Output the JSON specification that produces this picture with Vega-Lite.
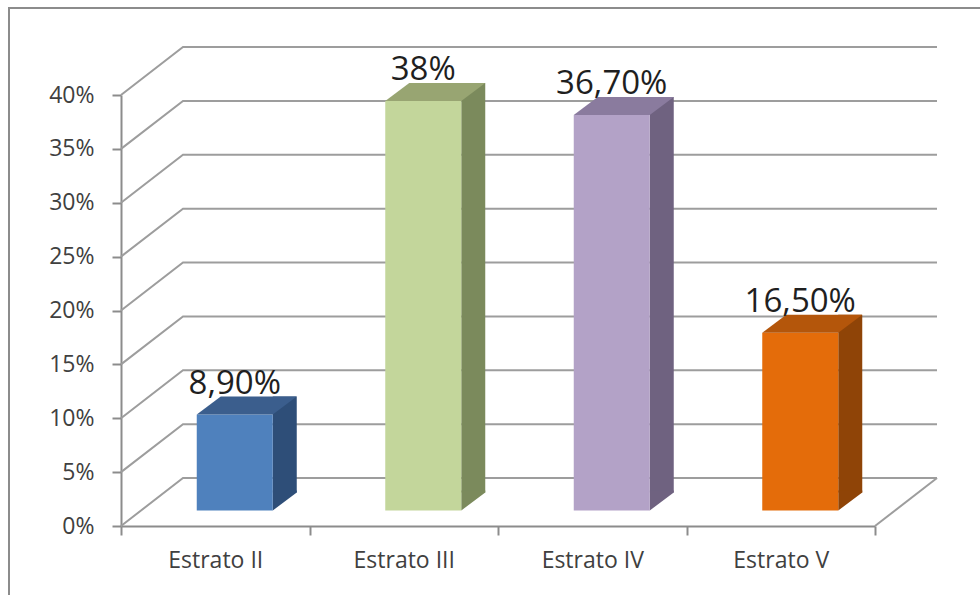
{
  "$schema": "https://vega.github.io/schema/vega-lite/v6.json",
  "width": 754,
  "height": 431,
  "autosize": {"type": "none"},
  "padding": {"left": 121, "top": 95, "right": 105, "bottom": 69},
  "background": "#ffffff",
  "config": {"view": {"stroke": null}, "font": "Open Sans"},
  "datasets": {
    "bars": [
      {"estrato": "Estrato II", "valor": 8.9, "etiqueta": "8,90%"},
      {"estrato": "Estrato III", "valor": 38, "etiqueta": "38%"},
      {"estrato": "Estrato IV", "valor": 36.7, "etiqueta": "36,70%"},
      {"estrato": "Estrato V", "valor": 16.5, "etiqueta": "16,50%"}
    ],
    "grid": [{"g": 0}, {"g": 5}, {"g": 10}, {"g": 15}, {"g": 20}, {"g": 25}, {"g": 30}, {"g": 35}, {"g": 40}]
  },
  "encoding": {
    "x": {
      "field": "estrato", "type": "nominal", "sort": null,
      "scale": {"domain": ["Estrato II", "Estrato III", "Estrato IV", "Estrato V"], "paddingInner": 0, "paddingOuter": 0},
      "axis": {
        "title": null, "labelAngle": 0, "grid": false, "tickBand": "extent",
        "domainColor": "#8c8c8c", "domainWidth": 2,
        "tickColor": "#8c8c8c", "tickWidth": 2, "tickSize": 9,
        "labelPadding": 14, "labelFontSize": 23, "labelColor": "#404040", "labelFont": "Open Sans"
      }
    },
    "y": {
      "field": "valor", "type": "quantitative",
      "scale": {"domain": [0, 40], "nice": false},
      "axis": {
        "values": [0, 5, 10, 15, 20, 25, 30, 35, 40],
        "labelExpr": "datum.value + '%'",
        "title": null, "grid": false,
        "domainColor": "#8c8c8c", "domainWidth": 2,
        "tickColor": "#8c8c8c", "tickWidth": 2, "tickSize": 9,
        "labelPadding": 18, "labelFontSize": 23, "labelColor": "#404040", "labelFont": "Open Sans"
      }
    }
  },
  "layer": [
    {
      "data": {"name": "grid"},
      "transform": [{"filter": "datum.g === 40"}],
      "mark": {"type": "point", "shape": "M -206.25 510 L -206.25 -87 L 780 -87", "size": 4, "filled": false, "opacity": 1, "stroke": "#8c8c8c", "strokeWidth": 2},
      "encoding": {
        "x": {"datum": "Estrato II"},
        "y": {"field": "g", "type": "quantitative"}
      }
    },
    {
      "data": {"name": "grid"},
      "mark": {"type": "point", "shape": "M -94.25 0 L -32.25 -48 L 721.75 -48", "size": 4, "filled": false, "opacity": 1, "stroke": "#9d9d9d", "strokeWidth": 2},
      "encoding": {
        "x": {"datum": "Estrato II"},
        "y": {"field": "g", "type": "quantitative"}
      }
    },
    {
      "data": {"name": "grid"},
      "transform": [{"filter": "datum.g === 0"}],
      "mark": {"type": "point", "shape": "M 94.25 0 L 156.25 -48", "size": 4, "filled": false, "opacity": 1, "stroke": "#9d9d9d", "strokeWidth": 2},
      "encoding": {
        "x": {"datum": "Estrato V"},
        "y": {"field": "g", "type": "quantitative"}
      }
    },
    {
      "data": {"name": "bars"},
      "layer": [
        {
          "mark": {"type": "bar", "size": 24, "xOffset": 69.5, "yOffset": -33.5, "y2Offset": -33.5},
          "encoding": {
            "color": {"field": "estrato", "type": "nominal", "sort": null, "scale": {"range": ["#2e4e78", "#7b8a5c", "#6f6280", "#8f4407"]}, "legend": null}
          }
        },
        {
          "mark": {"type": "point", "shape": "M 57.5 -35.5 L 57.5 -15.5 L 81.5 -33.5 L 81.5 -35.5 Z", "size": 4, "filled": true, "opacity": 1, "strokeWidth": 0},
          "encoding": {
            "y": {"datum": 0, "type": "quantitative"},
            "color": {"field": "estrato", "type": "nominal", "sort": null, "scale": {"range": ["#2e4e78", "#7b8a5c", "#6f6280", "#8f4407"]}, "legend": null}
          }
        },
        {
          "mark": {"type": "bar", "size": 76, "xOffset": 19.5, "yOffset": -15.5, "y2Offset": -15.5},
          "encoding": {
            "color": {"field": "estrato", "type": "nominal", "sort": null, "scale": {"range": ["#4f81bd", "#c3d69b", "#b3a2c7", "#e46c0a"]}, "legend": null}
          }
        },
        {
          "mark": {"type": "point", "shape": "M -18.5 -15.5 L 57.5 -15.5 L 81.5 -33.5 L 5.5 -33.5 Z", "size": 4, "filled": true, "opacity": 1, "strokeWidth": 0},
          "encoding": {
            "color": {"field": "estrato", "type": "nominal", "sort": null, "scale": {"range": ["#3b5e8d", "#98a572", "#8a7b9e", "#b4560b"]}, "legend": null}
          }
        },
        {
          "mark": {"type": "text", "xOffset": 19.5, "yOffset": -36.5, "baseline": "alphabetic", "align": "center", "fontSize": 33, "font": "Open Sans", "color": "#1f1f1f"},
          "encoding": {
            "text": {"field": "etiqueta", "type": "nominal"}
          }
        }
      ],
      "resolve": {"scale": {"color": "independent"}}
    }
  ]
}
